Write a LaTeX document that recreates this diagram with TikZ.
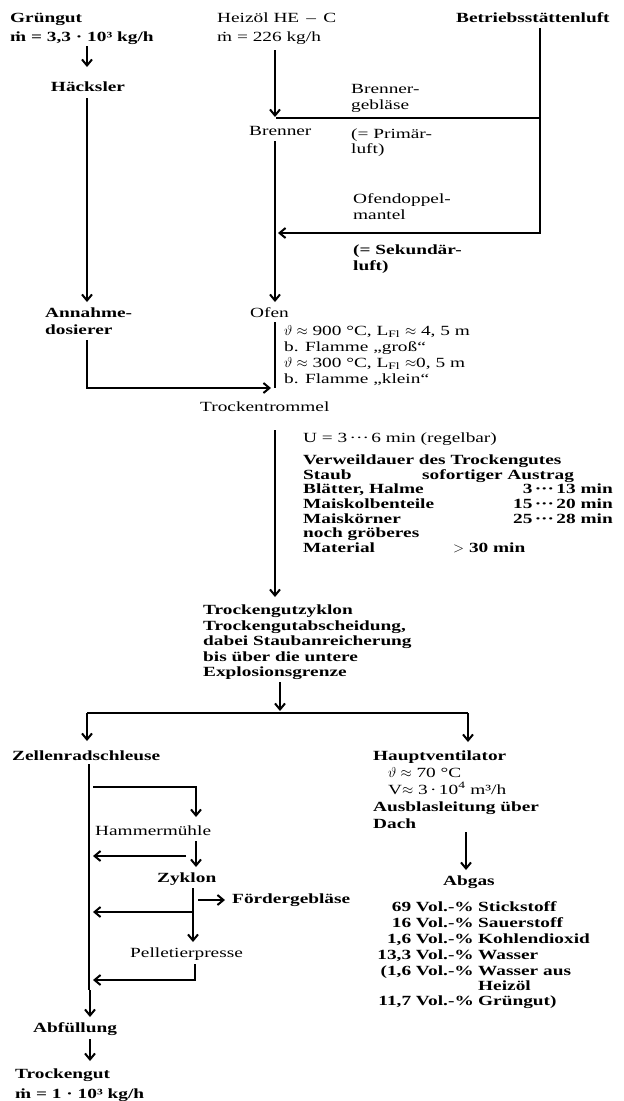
\documentclass[tikz,border=0pt]{standalone}
\usepackage{fontspec}
\setmainfont{Liberation Serif}[FakeStretch=1.38]
\usetikzlibrary{arrows.meta}
\tikzset{
 t/.style={anchor=base west, inner sep=0pt, font=\fontsize{14}{15}\selectfont},
 tb/.style={t, font=\fontsize{14}{15}\selectfont\bfseries},
 te/.style={tb, anchor=base east},
 flow/.style={line width=1.2pt},
 arr/.style={flow, -{Straight Barb[length=6pt,width=10pt,line width=2pt]}},
}
\begin{document}
\begin{tikzpicture}[x=1pt,y=-1pt]
\useasboundingbox (0,0) rectangle (624,1101);
\fill[white] (0,0) rectangle (624,1101);
% ---------- top left
\node[tb] (gr1) at (10,22) {Grüngut};
\node[tb] (gr2) at (10,41) {ṁ = 3,3 · 10³ kg/h};
\node[tb, anchor=base] (haeck) at (88,91) {Häcksler};
\node[tb] (ann1) at (45,317) {Annahme-};
\node[tb] (ann2) at (45,334) {dosierer};
\node[t] (tt) at (200,411) {Trockentrommel};
% ---------- top middle / right
\node[t] (hz1) at (217,22) {Heizöl HE \,–\, C};
\node[t] (hz2) at (217,41) {ṁ = 226 kg/h};
\node[tb] (bsl) at (456,22) {Betriebsstättenluft};
\node[t] (bren) at (249,135) {Brenner};
\node[t] (bg1) at (351,93) {Brenner-};
\node[t] (bg2) at (351,109) {gebläse};
\node[t] (pl1) at (351,138) {(= Primär-};
\node[t] (pl2) at (351,153) {luft)};
\node[t] (od1) at (353,203) {Ofendoppel-};
\node[t] (od2) at (353,219) {mantel};
\node[tb] (sl1) at (353,254) {(= Sekundär-};
\node[tb] (sl2) at (353,270) {luft)};
\node[t] (ofen) at (250,317) {Ofen};
\node[t] (of1) at (284,335) {$\vartheta\approx$ 900 °C, L\textsubscript{Fl} $\approx$ 4, 5 m};
\node[t] (of2) at (284,351) {b. Flamme „groß“};
\node[t] (of3) at (284,367) {$\vartheta\approx$ 300 °C, L\textsubscript{Fl} $\approx$0, 5 m};
\node[t] (of4) at (284,383) {b. Flamme „klein“};
% ---------- dwell time
\node[t] (u) at (303,442) {U = 3\,···\,6 min (regelbar)};
\node[tb] (vw) at (303,464) {Verweildauer des Trockengutes};
\node[tb] (r1a) at (303,479) {Staub};
\node[tb] (r1b) at (422,479) {sofortiger Austrag};
\node[tb] (r2a) at (303,493) {Blätter, Halme};
\node[te] (r2b) at (613,493) {3\,···\,13 min};
\node[tb] (r3a) at (303,508) {Maiskolbenteile};
\node[te] (r3b) at (613,508) {15\,···\,20 min};
\node[tb] (r4a) at (303,523) {Maiskörner};
\node[te] (r4b) at (613,523) {25\,···\,28 min};
\node[tb] (r5a) at (303,537) {noch gröberes};
\node[tb] (r6a) at (303,552) {Material};
\node[tb] (r6b) at (453,552) {$>$ 30 min};
% ---------- cyclone
\node[tb] (zy1) at (203,614) {Trockengutzyklon};
\node[tb] (zy2) at (203,630) {Trockengutabscheidung,};
\node[tb] (zy3) at (203,645) {dabei Staubanreicherung};
\node[tb] (zy4) at (203,661) {bis über die untere};
\node[tb] (zy5) at (203,676) {Explosionsgrenze};
% ---------- lower left
\node[tb] (zrs) at (12,760) {Zellenradschleuse};
\node[t] (hm) at (95,835) {Hammermühle};
\node[tb] (zyk) at (157,882) {Zyklon};
\node[tb] (fg) at (232,903) {Fördergebläse};
\node[t] (pp) at (130,957) {Pelletierpresse};
\node[tb] (abf) at (33,1032) {Abfüllung};
\node[tb] (tg1) at (15,1078) {Trockengut};
\node[tb] (tg2) at (15,1098) {ṁ = 1 · 10³ kg/h};
% ---------- lower right
\node[tb] (hv) at (373,760) {Hauptventilator};
\node[t] (hv1) at (388,777) {$\vartheta\approx$ 70 °C};
\node[t] (hv2) at (388,794) {V$\approx$ 3\,·\,10\textsuperscript{4} m³/h};
\node[tb] (hv3) at (373,811) {Ausblasleitung über};
\node[tb] (hv4) at (373,828) {Dach};
\node[tb] (abg) at (443,885) {Abgas};
\node[te] (g1a) at (474,911) {69 Vol.-\%};
\node[tb] (g1b) at (478,911) {Stickstoff};
\node[te] (g2a) at (474,927) {16 Vol.-\%};
\node[tb] (g2b) at (478,927) {Sauerstoff};
\node[te] (g3a) at (474,943) {1,6 Vol.-\%};
\node[tb] (g3b) at (478,943) {Kohlendioxid};
\node[te] (g4a) at (474,959) {13,3 Vol.-\%};
\node[tb] (g4b) at (478,959) {Wasser};
\node[te] (g5a) at (474,975) {(1,6 Vol.-\%};
\node[tb] (g5b) at (478,975) {Wasser aus};
\node[tb] (g6b) at (478,990) {Heizöl};
\node[te] (g7a) at (474,1005) {11,7 Vol.-\%};
\node[tb] (g7b) at (478,1005) {Grüngut)};
% ---------- connector coordinates
\coordinate (c1) at (87,46);  \coordinate (c2) at (87,67);
\coordinate (c3) at (87,98);  \coordinate (c4) at (87,302);
\coordinate (c5) at (87,340); \coordinate (c6) at (87,388); \coordinate (c7) at (271,388);
\coordinate (h1) at (275,50); \coordinate (h2) at (275,117);
\coordinate (p1) at (540,118); \coordinate (p2) at (276,118);
\coordinate (b1) at (540,28); \coordinate (b2) at (540,233); \coordinate (b3) at (278,233);
\coordinate (o1) at (275,141); \coordinate (o2) at (275,302);
\coordinate (o3) at (275,322); \coordinate (o4) at (275,388);
\coordinate (d1) at (275,430); \coordinate (d2) at (275,597);
\coordinate (z1) at (280,682); \coordinate (z2) at (280,711);
\coordinate (s1) at (87,713); \coordinate (s2) at (468,713);
\coordinate (s3) at (87,741); \coordinate (s4) at (468,742);
\coordinate (v1) at (89,764); \coordinate (v2) at (89,990);
\coordinate (v3) at (90,990); \coordinate (v4) at (90,1017);
\coordinate (m1) at (93,787); \coordinate (m2) at (196,787); \coordinate (m3) at (196,817);
\coordinate (m4) at (196,841); \coordinate (m5) at (196,867);
\coordinate (m6) at (186,856); \coordinate (m7) at (93,856);
\coordinate (k1) at (193,888); \coordinate (k2) at (193,942);
\coordinate (k3) at (198,900); \coordinate (k4) at (225,900);
\coordinate (k5) at (192,912); \coordinate (k6) at (93,912);
\coordinate (e1) at (195,964); \coordinate (e2) at (195,980); \coordinate (e3) at (93,980);
\coordinate (f1) at (90,1039); \coordinate (f2) at (90,1061);
\coordinate (a1) at (466,832); \coordinate (a2) at (466,870);
% ---------- connectors
\draw[arr] (c1) -- (c2);
\draw[arr] (c3) -- (c4);
\draw[arr] (c5) -- (c6) -- (c7);
\draw[arr] (h1) -- (h2);
\draw[flow] (p1) -- (p2);
\draw[arr] (b1) -- (b2) -- (b3);
\draw[arr] (o1) -- (o2);
\draw[flow] (o3) -- (o4);
\draw[arr] (d1) -- (d2);
\draw[arr] (z1) -- (z2);
\draw[flow] (s1) -- (s2);
\draw[arr] (s1) -- (s3);
\draw[arr] (s2) -- (s4);
\draw[flow] (v1) -- (v2);
\draw[arr] (v3) -- (v4);
\draw[arr] (m1) -- (m2) -- (m3);
\draw[arr] (m4) -- (m5);
\draw[arr] (m6) -- (m7);
\draw[arr] (k1) -- (k2);
\draw[arr] (k3) -- (k4);
\draw[arr] (k5) -- (k6);
\draw[arr] (e1) -- (e2) -- (e3);
\draw[arr] (f1) -- (f2);
\draw[arr] (a1) -- (a2);
\end{tikzpicture}
\end{document}
